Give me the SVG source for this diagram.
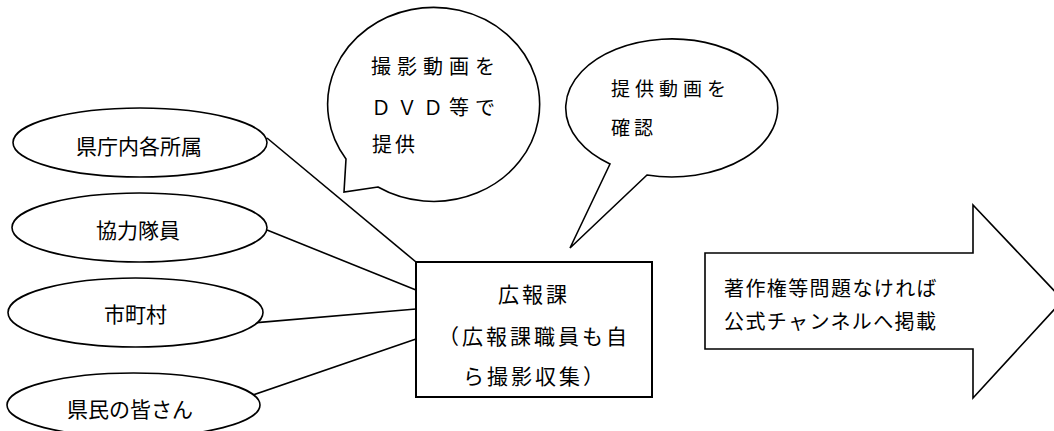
<svg xmlns="http://www.w3.org/2000/svg" width="1054" height="431" viewBox="0 0 1054 431">
<style>
.s{fill:#fff;stroke:#000;stroke-width:1.6}
.c{stroke:#000;stroke-width:1.6;fill:none}
.t{font-family:"Noto Sans CJK JP","Noto Sans",sans-serif;fill:#000}
.e{font-size:21px;letter-spacing:0px}
.r{font-size:21px;letter-spacing:3px}
.b{font-size:20px}
.a{font-size:20px;letter-spacing:1.4px}
</style>
<rect width="1054" height="431" fill="#fff"/>
<g id="connectors">
<line class="c" x1="267" y1="138" x2="416" y2="262"/>
<line class="c" x1="267" y1="230" x2="416" y2="290"/>
<line class="c" x1="253" y1="323" x2="416" y2="309"/>
<line class="c" x1="253" y1="395" x2="416" y2="339"/>
</g>
<g id="n1"><ellipse class="s" cx="140" cy="142.5" rx="127" ry="34.5"/><text class="t e" x="76" y="154">県庁内各所属</text></g>
<g id="n2"><ellipse class="s" cx="139.5" cy="227.5" rx="127.5" ry="34.5"/><text class="t e" x="96" y="238">協力隊員</text></g>
<g id="n3"><ellipse class="s" cx="135.5" cy="312.5" rx="127.5" ry="34.5"/><text class="t e" x="104" y="322">市町村</text></g>
<g id="n4"><ellipse class="s" cx="133.5" cy="405" rx="126.5" ry="32"/><text class="t e" x="67" y="417">県民の皆さん</text></g>
<g id="koho"><rect class="s" x="416" y="262" width="236" height="135" style="stroke-width:2"/>
<text class="t r" x="498" y="302">広報課</text>
<text class="t r" x="438" y="344">（広報課職員も自</text>
<text class="t r" x="463" y="384">ら撮影収集）</text></g>
<g id="bubble1"><path class="s" d="M 378,187 L 344,192 L 346,159 A 106 97 0 1 1 378,187 Z"/>
<text class="t b" x="371" y="74" style="letter-spacing:6px">撮影動画を</text>
<text class="t b" x="371" y="115" style="letter-spacing:6px">ＤＶＤ等で</text>
<text class="t b" x="372" y="152" style="letter-spacing:3px">提供</text></g>
<g id="bubble2"><path class="s" d="M 647,175 L 570,248 L 610,164 A 106 69 0 1 1 647,175 Z"/>
<text class="t b" x="611" y="96" style="font-size:19px;letter-spacing:5px">提供動画を</text>
<text class="t b" x="611" y="135" style="font-size:19px;letter-spacing:4px">確認</text></g>
<g id="publish"><path class="s" d="M 705,253 L 973,253 L 973,205 L 1063,300 L 973,398 L 973,349 L 705,349 Z"/>
<text class="t a" x="724" y="296">著作権等問題なければ</text>
<text class="t a" x="724" y="329">公式チャンネルへ掲載</text></g>
</svg>
